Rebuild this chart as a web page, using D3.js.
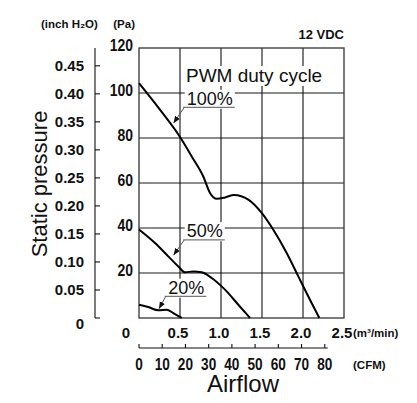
<!DOCTYPE html>
<html>
<head>
<meta charset="utf-8">
<script src="https://cdn.jsdelivr.net/npm/d3@7"></script>
<style>
  body { margin: 0; background: #fff; }
  svg { display: block; }
  .num { font-family: "Liberation Sans", Arial, sans-serif; font-weight: bold; font-size: 15px; fill: #111; }
  .unit { font-family: "Liberation Sans", Arial, sans-serif; font-weight: bold; font-size: 11.5px; fill: #111; }
  .title { font-family: "Liberation Sans", Arial, sans-serif; font-size: 22px; fill: #111; }
  .note { font-family: "Liberation Sans", Arial, sans-serif; font-size: 18px; fill: #111; }
</style>
</head>
<body>
<svg id="chart" width="417" height="403"></svg>
<script>
// Fan P-Q curves: airflow (m3/min) vs static pressure (Pa)
const flow100 = [0, 0.26, 0.508, 0.643, 0.784, 0.866, 0.948, 1.049, 1.159, 1.333, 1.496, 1.638, 1.801, 1.943, 2.085, 2.199];
const pa100   = [104.4, 92.4, 80, 71.8, 62.9, 55.6, 53.0, 53.6, 54.7, 52.6, 46.7, 39.2, 28.9, 18.5, 8.1, 0];

const flow50 = [0, 0.195, 0.357, 0.48, 0.561, 0.663, 0.764, 0.886, 1.049, 1.211, 1.354];
const pa50   = [39.3, 33.3, 27.4, 22.9, 20.3, 20.7, 20.3, 17.8, 12.6, 5.9, 0];

const flow20 = [0, 0.113, 0.235, 0.338, 0.418, 0.52];
const pa20   = [5.9, 4.9, 3.4, 3.7, 2.2, 0];

// axis ticks
const paTicks = [20, 40, 60, 80, 100, 120];
const inchTicks = [0, 0.05, 0.10, 0.15, 0.20, 0.25, 0.30, 0.35, 0.40, 0.45];
const m3Ticks = [0.5, 1.0, 1.5, 2.0, 2.5];
const cfmTicks = [0, 10, 20, 30, 40, 50, 60, 70, 80];

// duty cycle labels: text position and arrow tip, in data units
const dutyLabels = ["100%", "50%", "20%"];
const labelFlow = [0.582, 0.582, 0.357];
const labelPa = [94.8, 35.9, 10.8];
const tipFlow = [0.421, 0.421, 0.244];
const tipPa = [86.6, 27.9, 4.1];

const PA_PER_INCH = 249.089;
const CFM_PER_M3 = 35.3147;

const plotLeft = 139, plotRight = 344, plotTop = 48, plotBottom = 318;

const x = d3.scaleLinear().domain([0, 2.5]).range([plotLeft, plotRight]);
const y = d3.scaleLinear().domain([0, 120]).range([plotBottom, plotTop]);
const yInch = d3.scaleLinear().domain([0, 120 / PA_PER_INCH]).range([plotBottom, plotTop]);
const xCfm = d3.scaleLinear().domain([0, 2.5 * CFM_PER_M3]).range([plotLeft, plotRight]);

const svg = d3.select("#chart");

// some tick numbers are set in a condensed face: squeeze them to a narrower width
function squeeze(sel, k) {
    sel.each(function() {
        const w = this.getComputedTextLength();
        d3.select(this).attr("textLength", w * k).attr("lengthAdjust", "spacingAndGlyphs");
    });
}

// grid
const grid = svg.append("g");
grid.selectAll("line.h")
    .data(paTicks.filter(d => d < 120))
    .enter().append("line")
    .attr("x1", plotLeft).attr("x2", plotRight)
    .attr("y1", d => y(d)).attr("y2", d => y(d))
    .style("stroke", "#666").style("stroke-width", 1.4);
grid.selectAll("line.v")
    .data(m3Ticks.filter(d => d < 2.5))
    .enter().append("line")
    .attr("x1", d => x(d)).attr("x2", d => x(d))
    .attr("y1", plotTop).attr("y2", plotBottom)
    .style("stroke", "#111").style("stroke-width", 1.1);
grid.append("rect")
    .attr("x", plotLeft).attr("y", plotTop)
    .attr("width", plotRight - plotLeft).attr("height", plotBottom - plotTop)
    .style("fill", "none").style("stroke", "#333").style("stroke-width", 1.3);

// annotation texts with white boxes behind them
const notes = svg.append("g");
notes.append("g").append("text").attr("class", "note")
    .attr("x", 186).attr("y", 82).style("font-size", "19px")
    .text("PWM duty cycle");

const labels = notes.selectAll("g.duty")
    .data(dutyLabels)
    .enter().append("g").attr("class", "duty");
labels.append("text").attr("class", "note")
    .attr("x", (d, i) => x(labelFlow[i]))
    .attr("y", (d, i) => y(labelPa[i]))
    .text(d => d);

notes.selectAll("text").each(function() {
    const b = this.getBBox();
    d3.select(this.parentNode).insert("rect", () => this)
        .attr("x", b.x - 2).attr("y", b.y + 1)
        .attr("width", b.width + 4).attr("height", b.height - 1)
        .style("fill", "#fff");
});

// underline and leader arrows
svg.append("defs").append("marker")
    .attr("id", "arrow")
    .attr("viewBox", "0 0 10 10")
    .attr("refX", 10).attr("refY", 5)
    .attr("markerWidth", 7).attr("markerHeight", 7)
    .attr("markerUnits", "userSpaceOnUse")
    .attr("orient", "auto")
    .append("path").attr("d", "M0,1 L10,5 L0,9 Z").style("fill", "#111");

labels.each(function(d, i) {
    const g = d3.select(this);
    const b = g.select("text").node().getBBox();
    const uy = y(labelPa[i]) + 2.7;
    g.append("line")
        .attr("x1", b.x - 3.5).attr("x2", b.x + b.width + 2)
        .attr("y1", uy).attr("y2", uy)
        .style("stroke", "#777").style("stroke-width", 1.2);
    g.append("line")
        .attr("x1", b.x - 2.5).attr("y1", uy)
        .attr("x2", x(tipFlow[i])).attr("y2", y(tipPa[i]))
        .attr("marker-end", "url(#arrow)")
        .style("stroke", "#555").style("stroke-width", 1);
});

// curves
const line = d3.line()
    .x(d => x(d[0]))
    .y(d => y(d[1]))
    .curve(d3.curveMonotoneX);

const series = [d3.zip(flow100, pa100), d3.zip(flow50, pa50), d3.zip(flow20, pa20)];
svg.append("g").selectAll("path")
    .data(series)
    .enter().append("path")
    .attr("d", line)
    .style("fill", "none")
    .style("stroke", "#000")
    .style("stroke-width", 2);

// Pa labels
svg.append("g").selectAll("text")
    .data(paTicks)
    .enter().append("text").attr("class", "num")
    .style("font-size", "17px")
    .attr("x", plotLeft - 6).attr("y", d => y(d) + 3)
    .attr("text-anchor", "end")
    .text(d => d)
    .call(squeeze, 0.82);

// inch H2O axis
const inchAxis = svg.append("g");
inchAxis.append("line")
    .attr("x1", 95).attr("x2", 95).attr("y1", plotTop).attr("y2", plotBottom)
    .style("stroke", "#111").style("stroke-width", 1.1);
inchAxis.selectAll("line.t")
    .data(inchTicks)
    .enter().append("line")
    .attr("x1", 95).attr("x2", 100)
    .attr("y1", d => yInch(d))
    .attr("y2", d => yInch(d))
    .style("stroke", "#111").style("stroke-width", 1.1);
inchAxis.selectAll("text")
    .data(inchTicks)
    .enter().append("text").attr("class", "num")
    .attr("x", 84).attr("y", d => yInch(d) + (d === 0 ? 11 : 5.5))
    .attr("text-anchor", "end")
    .text(d => d === 0 ? "0" : d.toFixed(2));

// m3/min labels
svg.append("g").selectAll("text")
    .data(m3Ticks)
    .enter().append("text").attr("class", "num")
    .attr("x", d => x(d) - 2).attr("y", 338)
    .attr("text-anchor", "middle")
    .text(d => d.toFixed(1));
svg.append("text").attr("class", "num")
    .attr("x", plotLeft - 9).attr("y", 338)
    .attr("text-anchor", "end")
    .text("0");

// CFM axis
const cfmAxis = svg.append("g");
cfmAxis.append("line")
    .attr("x1", xCfm(0)).attr("x2", xCfm(80) + 3)
    .attr("y1", 348).attr("y2", 348)
    .style("stroke", "#111").style("stroke-width", 1.1);
cfmAxis.selectAll("line.t")
    .data(cfmTicks)
    .enter().append("line")
    .attr("x1", d => xCfm(d)).attr("x2", d => xCfm(d))
    .attr("y1", 344).attr("y2", 348)
    .style("stroke", "#111").style("stroke-width", 1.1);
cfmAxis.selectAll("text")
    .data(cfmTicks)
    .enter().append("text").attr("class", "num")
    .style("font-size", "17px")
    .attr("x", d => xCfm(d)).attr("y", 370)
    .attr("text-anchor", "middle")
    .text(d => d)
    .call(squeeze, 0.8);

// units and titles
svg.append("text").attr("class", "unit").attr("x", 41).attr("y", 28).text("(inch H₂O)");
svg.append("text").attr("class", "unit").attr("x", 135).attr("y", 28).attr("text-anchor", "end").text("(Pa)");
svg.append("text").attr("class", "unit").attr("x", 353).attr("y", 337).text("(m³/min)");
svg.append("text").attr("class", "unit").attr("x", 353).attr("y", 369).text("(CFM)");
svg.append("text").attr("class", "unit").attr("x", 344).attr("y", 39)
    .attr("text-anchor", "end").style("font-size", "13px").text("12 VDC");

svg.append("text").attr("class", "title")
    .attr("x", 243).attr("y", 392).attr("text-anchor", "middle")
    .style("font-size", "24px")
    .text("Airflow");
svg.append("text").attr("class", "title")
    .attr("transform", "translate(47,184) rotate(-90)")
    .attr("text-anchor", "middle")
    .text("Static pressure");
</script>
</body>
</html>
